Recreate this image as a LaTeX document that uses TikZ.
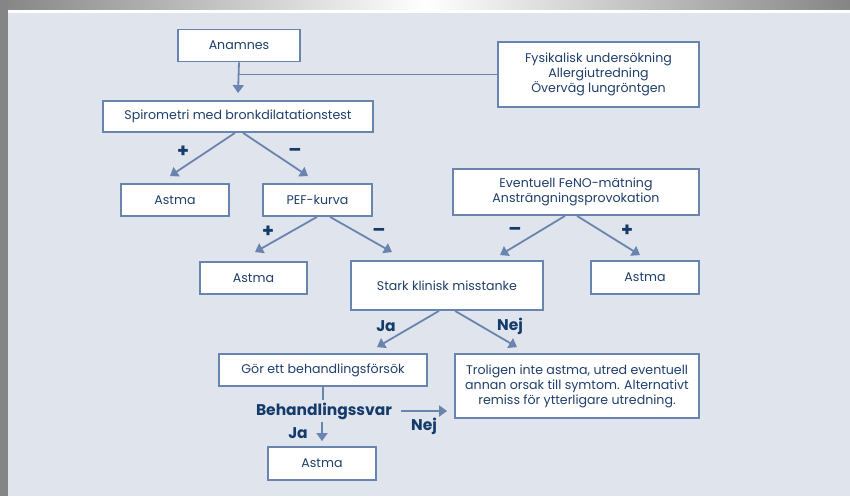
\documentclass[tikz,border=0pt]{standalone}
\usepackage{fontspec}
\setmainfont{Poppins}
\usetikzlibrary{arrows.meta,calc}
\definecolor{bgc}{HTML}{E0E4EC}
\definecolor{linec}{HTML}{6A84B0}
\definecolor{textc}{HTML}{1F3F6C}
\definecolor{labc}{HTML}{153B6B}
\definecolor{framec}{HTML}{858585}
\tikzset{
  box/.style={draw=linec, line width=1.8pt, fill=white, text=textc, font=\fontsize{12.6}{15}\selectfont, align=center, inner sep=2pt},
  conn/.style={draw=linec, line width=1.8pt},
  arr/.style={conn, -{Triangle[length=8pt,width=11pt]}},
  lab/.style={text=labc, font=\bfseries\fontsize{15.5}{16}\selectfont, inner sep=0pt},
  pm/.style={text=labc, font=\bfseries\fontsize{19}{19}\selectfont, inner sep=0pt}
}
\begin{document}
\begin{tikzpicture}[x=1pt,y=-1pt]
\useasboundingbox (0,0) rectangle (850,496);
% frame
\fill[bgc] (0,0) rectangle (850,496);
\shade[left color=framec, right color=framec, middle color=white] (0,0) rectangle (850,10);
\fill[white] (8,10) rectangle (850,13);
\fill[framec] (0,0) rectangle (8,496);
% boxes
\node[box, minimum width=122pt, minimum height=32pt] (anam) at (239,45.5) {Anamnes};
\node[box, minimum width=201pt, minimum height=65pt] (fys) at (598.5,74.5) {Fysikalisk undersökning\\Allergiutredning\\Överväg lungröntgen};
\node[box, minimum width=270pt, minimum height=31pt] (spiro) at (238,116.5) {Spirometri med bronkdilatationstest};
\node[box, minimum width=108pt, minimum height=32pt] (astmaA) at (175,200) {Astma};
\node[box, minimum width=109pt, minimum height=32pt] (pef) at (317.5,200) {PEF-kurva};
\node[box, minimum width=246pt, minimum height=46pt] (even) at (576,192) {Eventuell FeNO-mätning\\Ansträngningsprovokation};
\node[box, minimum width=107pt, minimum height=32pt] (astmaB) at (253.5,278) {Astma};
\node[box, minimum width=192pt, minimum height=49pt] (stark) at (447,285.5) {Stark klinisk misstanke};
\node[box, minimum width=108pt, minimum height=33pt] (astmaC) at (645,277.5) {Astma};
\node[box, minimum width=208pt, minimum height=32pt] (gor) at (323,370) {Gör ett behandlingsförsök};
\node[box, minimum width=244pt, minimum height=64pt] (trol) at (577,386) {Troligen inte astma, utred eventuell\\annan orsak till symtom. Alternativt\\remiss för ytterligare utredning.};
\node[box, minimum width=108pt, minimum height=33pt] (astmaD) at (322,463.5) {Astma};
\node[lab, inner sep=2pt] (beh) at (324,411) {Behandlingssvar};
% connectors
\draw[arr] (anam.south) -- ([yshift=7pt]spiro.north);
\draw[conn] (anam.south |- fys.west) -- (fys.west);
\draw[arr] ([xshift=-3pt]spiro.south) -- ([xshift=-5pt,yshift=7pt]astmaA.north);
\draw[arr] ([xshift=5pt]spiro.south) -- ([xshift=-9.5pt,yshift=7pt]pef.north);
\draw[arr] ([xshift=-0.5pt]pef.south) -- ([xshift=1.5pt,yshift=9pt]astmaB.north);
\draw[arr] ([xshift=12.5pt]pef.south) -- ([xshift=-55pt,yshift=8pt]stark.north);
\draw[arr] ([xshift=-11pt]even.south) -- ([xshift=53pt,yshift=5pt]stark.north);
\draw[arr] ([xshift=1pt]even.south) -- ([xshift=-5pt,yshift=5pt]astmaC.north);
\draw[arr] ([xshift=-8pt]stark.south) -- ([xshift=54pt,yshift=6pt]gor.north);
\draw[arr] ([xshift=8pt]stark.south) -- ([xshift=-60pt,yshift=6pt]trol.north);
\draw[conn] (gor.south) -- (gor.south |- beh.north);
\draw[arr] (astmaD.north |- beh.south) -- ([yshift=5pt]astmaD.north);
\draw[arr] ($(beh.east)+(7,0)$) -- ($(beh.east -| trol.west)+(-7,0)$);
% labels
\node[pm] (p1) at (183,152) {+};
\node[pm] (m1) at (295,152) {–};
\node[pm] (p2) at (268,232) {+};
\node[pm] (m2) at (379,232) {–};
\node[pm] (m3) at (515,231) {–};
\node[pm] (p3) at (627,231) {+};
\node[lab] (ja1) at (386,326) {Ja};
\node[lab] (nej1) at (510,326) {Nej};
\node[lab] (ja2) at (298,433) {Ja};
\node[lab] (nej2) at (424,426) {Nej};
\end{tikzpicture}
\end{document}
